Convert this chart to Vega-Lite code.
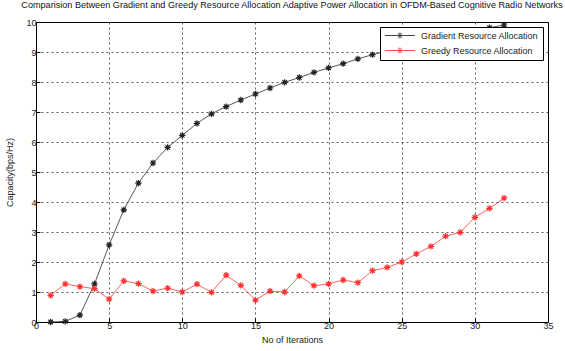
{
  "$schema": "https://vega.github.io/schema/vega-lite/v6.json",
  "width": 512,
  "height": 300,
  "autosize": "none",
  "padding": {"left": 36, "top": 22, "right": 17, "bottom": 29},
  "background": "white",
  "title": {
    "text": "Comparision Between Gradient and Greedy Resource Allocation Adaptive Power Allocation in OFDM-Based Cognitive Radio Networks",
    "font": "Liberation Sans",
    "fontSize": 9.1,
    "fontWeight": "normal",
    "color": "#111",
    "anchor": "middle",
    "offset": 8
  },
  "config": {
    "view": {"stroke": "black", "strokeWidth": 1},
    "font": "Liberation Sans",
    "axis": {
      "grid": true,
      "gridColor": "black",
      "gridDash": [2, 3],
      "gridOpacity": 0.8,
      "gridWidth": 0.8,
      "domain": false,
      "ticks": true,
      "tickSize": -4,
      "tickColor": "black",
      "labelFont": "Liberation Sans",
      "labelFontSize": 9,
      "labelColor": "#222",
      "titleFont": "Liberation Sans",
      "titleFontSize": 9,
      "titleFontWeight": "normal",
      "titleColor": "#222"
    }
  },
  "datasets": {
    "curves": [
      {"iter": 1, "cap": 0.0, "series": "Gradient Resource Allocation"},
      {"iter": 2, "cap": 0.02, "series": "Gradient Resource Allocation"},
      {"iter": 3, "cap": 0.23, "series": "Gradient Resource Allocation"},
      {"iter": 4, "cap": 1.27, "series": "Gradient Resource Allocation"},
      {"iter": 5, "cap": 2.57, "series": "Gradient Resource Allocation"},
      {"iter": 6, "cap": 3.74, "series": "Gradient Resource Allocation"},
      {"iter": 7, "cap": 4.63, "series": "Gradient Resource Allocation"},
      {"iter": 8, "cap": 5.3, "series": "Gradient Resource Allocation"},
      {"iter": 9, "cap": 5.82, "series": "Gradient Resource Allocation"},
      {"iter": 10, "cap": 6.22, "series": "Gradient Resource Allocation"},
      {"iter": 11, "cap": 6.62, "series": "Gradient Resource Allocation"},
      {"iter": 12, "cap": 6.94, "series": "Gradient Resource Allocation"},
      {"iter": 13, "cap": 7.18, "series": "Gradient Resource Allocation"},
      {"iter": 14, "cap": 7.4, "series": "Gradient Resource Allocation"},
      {"iter": 15, "cap": 7.6, "series": "Gradient Resource Allocation"},
      {"iter": 16, "cap": 7.8, "series": "Gradient Resource Allocation"},
      {"iter": 17, "cap": 7.99, "series": "Gradient Resource Allocation"},
      {"iter": 18, "cap": 8.15, "series": "Gradient Resource Allocation"},
      {"iter": 19, "cap": 8.32, "series": "Gradient Resource Allocation"},
      {"iter": 20, "cap": 8.47, "series": "Gradient Resource Allocation"},
      {"iter": 21, "cap": 8.61, "series": "Gradient Resource Allocation"},
      {"iter": 22, "cap": 8.77, "series": "Gradient Resource Allocation"},
      {"iter": 23, "cap": 8.91, "series": "Gradient Resource Allocation"},
      {"iter": 24, "cap": 9.04, "series": "Gradient Resource Allocation"},
      {"iter": 25, "cap": 9.17, "series": "Gradient Resource Allocation"},
      {"iter": 26, "cap": 9.29, "series": "Gradient Resource Allocation"},
      {"iter": 27, "cap": 9.41, "series": "Gradient Resource Allocation"},
      {"iter": 28, "cap": 9.52, "series": "Gradient Resource Allocation"},
      {"iter": 29, "cap": 9.62, "series": "Gradient Resource Allocation"},
      {"iter": 30, "cap": 9.72, "series": "Gradient Resource Allocation"},
      {"iter": 31, "cap": 9.81, "series": "Gradient Resource Allocation"},
      {"iter": 32, "cap": 9.9, "series": "Gradient Resource Allocation"},
      {"iter": 1, "cap": 0.89, "series": "Greedy Resource Allocation"},
      {"iter": 2, "cap": 1.27, "series": "Greedy Resource Allocation"},
      {"iter": 3, "cap": 1.18, "series": "Greedy Resource Allocation"},
      {"iter": 4, "cap": 1.11, "series": "Greedy Resource Allocation"},
      {"iter": 5, "cap": 0.76, "series": "Greedy Resource Allocation"},
      {"iter": 6, "cap": 1.37, "series": "Greedy Resource Allocation"},
      {"iter": 7, "cap": 1.28, "series": "Greedy Resource Allocation"},
      {"iter": 8, "cap": 1.03, "series": "Greedy Resource Allocation"},
      {"iter": 9, "cap": 1.13, "series": "Greedy Resource Allocation"},
      {"iter": 10, "cap": 1.0, "series": "Greedy Resource Allocation"},
      {"iter": 11, "cap": 1.26, "series": "Greedy Resource Allocation"},
      {"iter": 12, "cap": 0.99, "series": "Greedy Resource Allocation"},
      {"iter": 13, "cap": 1.56, "series": "Greedy Resource Allocation"},
      {"iter": 14, "cap": 1.22, "series": "Greedy Resource Allocation"},
      {"iter": 15, "cap": 0.73, "series": "Greedy Resource Allocation"},
      {"iter": 16, "cap": 1.03, "series": "Greedy Resource Allocation"},
      {"iter": 17, "cap": 1.0, "series": "Greedy Resource Allocation"},
      {"iter": 18, "cap": 1.54, "series": "Greedy Resource Allocation"},
      {"iter": 19, "cap": 1.21, "series": "Greedy Resource Allocation"},
      {"iter": 20, "cap": 1.27, "series": "Greedy Resource Allocation"},
      {"iter": 21, "cap": 1.4, "series": "Greedy Resource Allocation"},
      {"iter": 22, "cap": 1.31, "series": "Greedy Resource Allocation"},
      {"iter": 23, "cap": 1.71, "series": "Greedy Resource Allocation"},
      {"iter": 24, "cap": 1.82, "series": "Greedy Resource Allocation"},
      {"iter": 25, "cap": 2.0, "series": "Greedy Resource Allocation"},
      {"iter": 26, "cap": 2.27, "series": "Greedy Resource Allocation"},
      {"iter": 27, "cap": 2.52, "series": "Greedy Resource Allocation"},
      {"iter": 28, "cap": 2.86, "series": "Greedy Resource Allocation"},
      {"iter": 29, "cap": 2.99, "series": "Greedy Resource Allocation"},
      {"iter": 30, "cap": 3.49, "series": "Greedy Resource Allocation"},
      {"iter": 31, "cap": 3.79, "series": "Greedy Resource Allocation"},
      {"iter": 32, "cap": 4.13, "series": "Greedy Resource Allocation"}
    ]
  },
  "data": {"name": "curves"},
  "encoding": {
    "x": {
      "field": "iter",
      "type": "quantitative",
      "scale": {"domain": [0, 35], "nice": false, "zero": false},
      "axis": {"values": [0, 5, 10, 15, 20, 25, 30, 35], "title": "No of Iterations", "labelPadding": 3, "titlePadding": 5, "labelFlush": false}
    },
    "y": {
      "field": "cap",
      "type": "quantitative",
      "scale": {"domain": [0, 10], "nice": false},
      "axis": {"values": [0, 1, 2, 3, 4, 5, 6, 7, 8, 9, 10], "title": "Capacity(bps/Hz)", "labelPadding": 4, "titlePadding": 11, "labelFlush": false}
    },
    "color": {
      "field": "series",
      "type": "nominal",
      "scale": {"domain": ["Gradient Resource Allocation", "Greedy Resource Allocation"], "range": ["#222222", "#ff3030"]},
      "legend": {
        "title": null,
        "orient": "none",
        "legendX": 344,
        "legendY": 5,
        "direction": "vertical",
        "fillColor": "white",
        "strokeColor": "black",
        "padding": 4,
        "rowPadding": 4,
        "labelFont": "Liberation Sans",
        "labelFontSize": 9,
        "labelColor": "#222",
        "symbolType": "M-0.9,0L6.6,0M2.1,0L3.6,0M2.85,-0.75L2.85,0.75M2.3,-0.55L3.4,0.55M2.3,0.55L3.4,-0.55",
        "symbolSize": 64,
        "symbolStrokeWidth": 1,
        "symbolFillColor": "transparent",
        "labelOffset": 28
      }
    }
  },
  "layer": [
    {"mark": {"type": "line", "strokeWidth": 0.9, "opacity": 0.85}},
    {"mark": {"type": "point", "shape": "M-1,0L1,0M0,-1L0,1M-0.7,-0.7L0.7,0.7M-0.7,0.7L0.7,-0.7", "size": 40, "filled": false, "strokeWidth": 1.2, "opacity": 1}}
  ]
}
